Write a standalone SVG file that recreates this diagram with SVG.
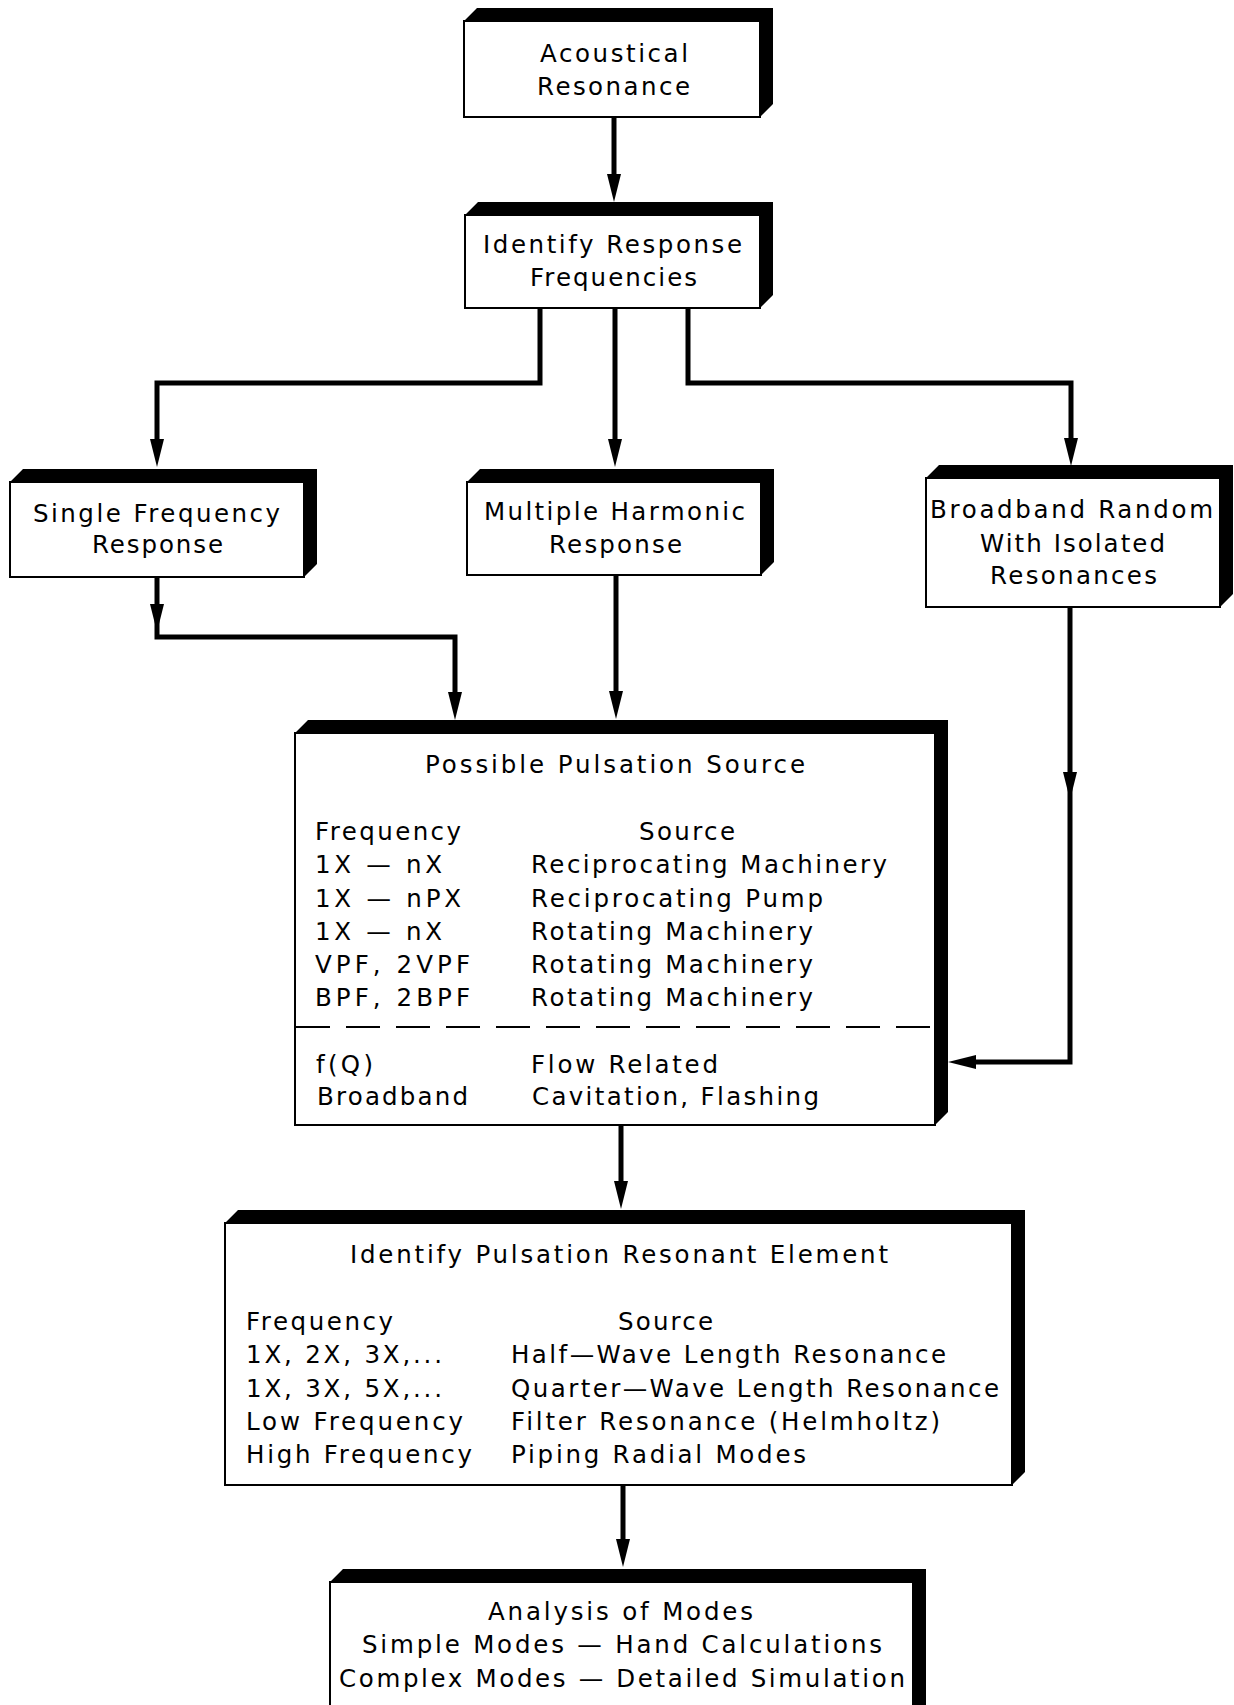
<svg xmlns="http://www.w3.org/2000/svg" width="1234" height="1705" viewBox="0 0 1234 1705">
<defs>
<style>
.sh{fill:#000}
.fr{fill:#fff;stroke:#000;stroke-width:2}
.t{font-family:"DejaVu Sans","Liberation Sans",Arial,sans-serif;font-size:24.5px;fill:#000}
.c{fill:none;stroke:#000;stroke-width:5;stroke-linejoin:miter}
.d{fill:none;stroke:#000;stroke-width:2;stroke-dasharray:34 16}
</style>
<marker id="ah" markerUnits="userSpaceOnUse" viewBox="0 0 28 14" markerWidth="28" markerHeight="14" refX="8" refY="7" orient="auto">
<path d="M0,0 L28,7 L0,14 z" fill="#000"/>
</marker>
</defs>
<rect width="1234" height="1705" fill="#fff"/>

<g id="connectors">
<path class="c" d="M614,117 V182" marker-end="url(#ah)"/>
<path class="c" d="M540,308 V383 H157 V447" marker-end="url(#ah)"/>
<path class="c" d="M615,308 V447" marker-end="url(#ah)"/>
<path class="c" d="M688,308 V383 H1071 V446" marker-end="url(#ah)"/>
<path class="c" d="M157,577 V612" marker-end="url(#ah)"/>
<path class="c" d="M157,610 V637 H455 V700" marker-end="url(#ah)"/>
<path class="c" d="M616,575 V699" marker-end="url(#ah)"/>
<path class="c" d="M1070,607 V780" marker-end="url(#ah)"/>
<path class="c" d="M1070,778 V1062 H968" marker-end="url(#ah)"/>
<path class="c" d="M621,1125 V1189" marker-end="url(#ah)"/>
<path class="c" d="M623,1485 V1547" marker-end="url(#ah)"/>
</g>

<g id="acoustical-resonance">
<polygon class="sh" points="464,21 477,8 773,8 773,104 760,117 760,21"/>
<rect class="fr" x="464" y="21" width="296" height="96"/>
<text class="t" x="540" y="62" textLength="148" lengthAdjust="spacing">Acoustical</text>
<text class="t" x="537" y="95" textLength="153" lengthAdjust="spacing">Resonance</text>
</g>

<g id="identify-response-frequencies">
<polygon class="sh" points="465,215 478,202 773,202 773,295 760,308 760,215"/>
<rect class="fr" x="465" y="215" width="295" height="93"/>
<text class="t" x="483" y="253" textLength="259" lengthAdjust="spacing">Identify Response</text>
<text class="t" x="530" y="286" textLength="167" lengthAdjust="spacing">Frequencies</text>
</g>

<g id="single-frequency-response">
<polygon class="sh" points="10,482 23,469 317,469 317,564 304,577 304,482"/>
<rect class="fr" x="10" y="482" width="294" height="95"/>
<text class="t" x="33" y="522" textLength="247" lengthAdjust="spacing">Single Frequency</text>
<text class="t" x="92" y="553" textLength="131" lengthAdjust="spacing">Response</text>
</g>

<g id="multiple-harmonic-response">
<polygon class="sh" points="467,482 480,469 774,469 774,562 761,575 761,482"/>
<rect class="fr" x="467" y="482" width="294" height="93"/>
<text class="t" x="484" y="520" textLength="261" lengthAdjust="spacing">Multiple Harmonic</text>
<text class="t" x="549" y="553" textLength="133" lengthAdjust="spacing">Response</text>
</g>

<g id="broadband-random">
<polygon class="sh" points="926,478 939,465 1233,465 1233,594 1220,607 1220,478"/>
<rect class="fr" x="926" y="478" width="294" height="129"/>
<text class="t" x="930" y="518" textLength="283" lengthAdjust="spacing">Broadband Random</text>
<text class="t" x="980" y="552" textLength="185" lengthAdjust="spacing">With Isolated</text>
<text class="t" x="990" y="584" textLength="167" lengthAdjust="spacing">Resonances</text>
</g>

<g id="possible-pulsation-source">
<polygon class="sh" points="295,733 308,720 948,720 948,1112 935,1125 935,733"/>
<rect class="fr" x="295" y="733" width="640" height="392"/>
<line class="d" x1="296" y1="1027" x2="934" y2="1027"/>
<text class="t" x="425" y="773" textLength="380" lengthAdjust="spacing">Possible Pulsation Source</text>
<text class="t" x="315" y="840" textLength="146" lengthAdjust="spacing">Frequency</text>
<text class="t" x="639" y="840" textLength="96" lengthAdjust="spacing">Source</text>
<text class="t" x="315" y="873" textLength="127" lengthAdjust="spacing">1X — nX</text>
<text class="t" x="531" y="873" textLength="356" lengthAdjust="spacing">Reciprocating Machinery</text>
<text class="t" x="315" y="907" textLength="146" lengthAdjust="spacing">1X — nPX</text>
<text class="t" x="531" y="907" textLength="292" lengthAdjust="spacing">Reciprocating Pump</text>
<text class="t" x="315" y="940" textLength="127" lengthAdjust="spacing">1X — nX</text>
<text class="t" x="531" y="940" textLength="282" lengthAdjust="spacing">Rotating Machinery</text>
<text class="t" x="315" y="973" textLength="155" lengthAdjust="spacing">VPF, 2VPF</text>
<text class="t" x="531" y="973" textLength="282" lengthAdjust="spacing">Rotating Machinery</text>
<text class="t" x="315" y="1006" textLength="155" lengthAdjust="spacing">BPF, 2BPF</text>
<text class="t" x="531" y="1006" textLength="282" lengthAdjust="spacing">Rotating Machinery</text>
<text class="t" x="316" y="1073" textLength="57" lengthAdjust="spacing">f(Q)</text>
<text class="t" x="531" y="1073" textLength="187" lengthAdjust="spacing">Flow Related</text>
<text class="t" x="317" y="1105" textLength="151" lengthAdjust="spacing">Broadband</text>
<text class="t" x="532" y="1105" textLength="287" lengthAdjust="spacing">Cavitation, Flashing</text>
</g>

<g id="identify-pulsation-resonant-element">
<polygon class="sh" points="225,1223 238,1210 1025,1210 1025,1472 1012,1485 1012,1223"/>
<rect class="fr" x="225" y="1223" width="787" height="262"/>
<text class="t" x="350" y="1263" textLength="538" lengthAdjust="spacing">Identify Pulsation Resonant Element</text>
<text class="t" x="246" y="1330" textLength="147" lengthAdjust="spacing">Frequency</text>
<text class="t" x="618" y="1330" textLength="95" lengthAdjust="spacing">Source</text>
<text class="t" x="246" y="1363" textLength="196" lengthAdjust="spacing">1X, 2X, 3X,...</text>
<text class="t" x="511" y="1363" textLength="435" lengthAdjust="spacing">Half—Wave Length Resonance</text>
<text class="t" x="246" y="1397" textLength="196" lengthAdjust="spacing">1X, 3X, 5X,...</text>
<text class="t" x="511" y="1397" textLength="488" lengthAdjust="spacing">Quarter—Wave Length Resonance</text>
<text class="t" x="246" y="1430" textLength="217" lengthAdjust="spacing">Low Frequency</text>
<text class="t" x="511" y="1430" textLength="429" lengthAdjust="spacing">Filter Resonance (Helmholtz)</text>
<text class="t" x="246" y="1463" textLength="226" lengthAdjust="spacing">High Frequency</text>
<text class="t" x="511" y="1463" textLength="295" lengthAdjust="spacing">Piping Radial Modes</text>
</g>

<g id="analysis-of-modes">
<polygon class="sh" points="330,1582 343,1569 926,1569 926,1720 913,1720 913,1582"/>
<rect class="fr" x="330" y="1582" width="583" height="140"/>
<text class="t" x="488" y="1620" textLength="265" lengthAdjust="spacing">Analysis of Modes</text>
<text class="t" x="362" y="1653" textLength="520" lengthAdjust="spacing">Simple Modes — Hand Calculations</text>
<text class="t" x="339" y="1687" textLength="566" lengthAdjust="spacing">Complex Modes — Detailed Simulation</text>
</g>
</svg>
